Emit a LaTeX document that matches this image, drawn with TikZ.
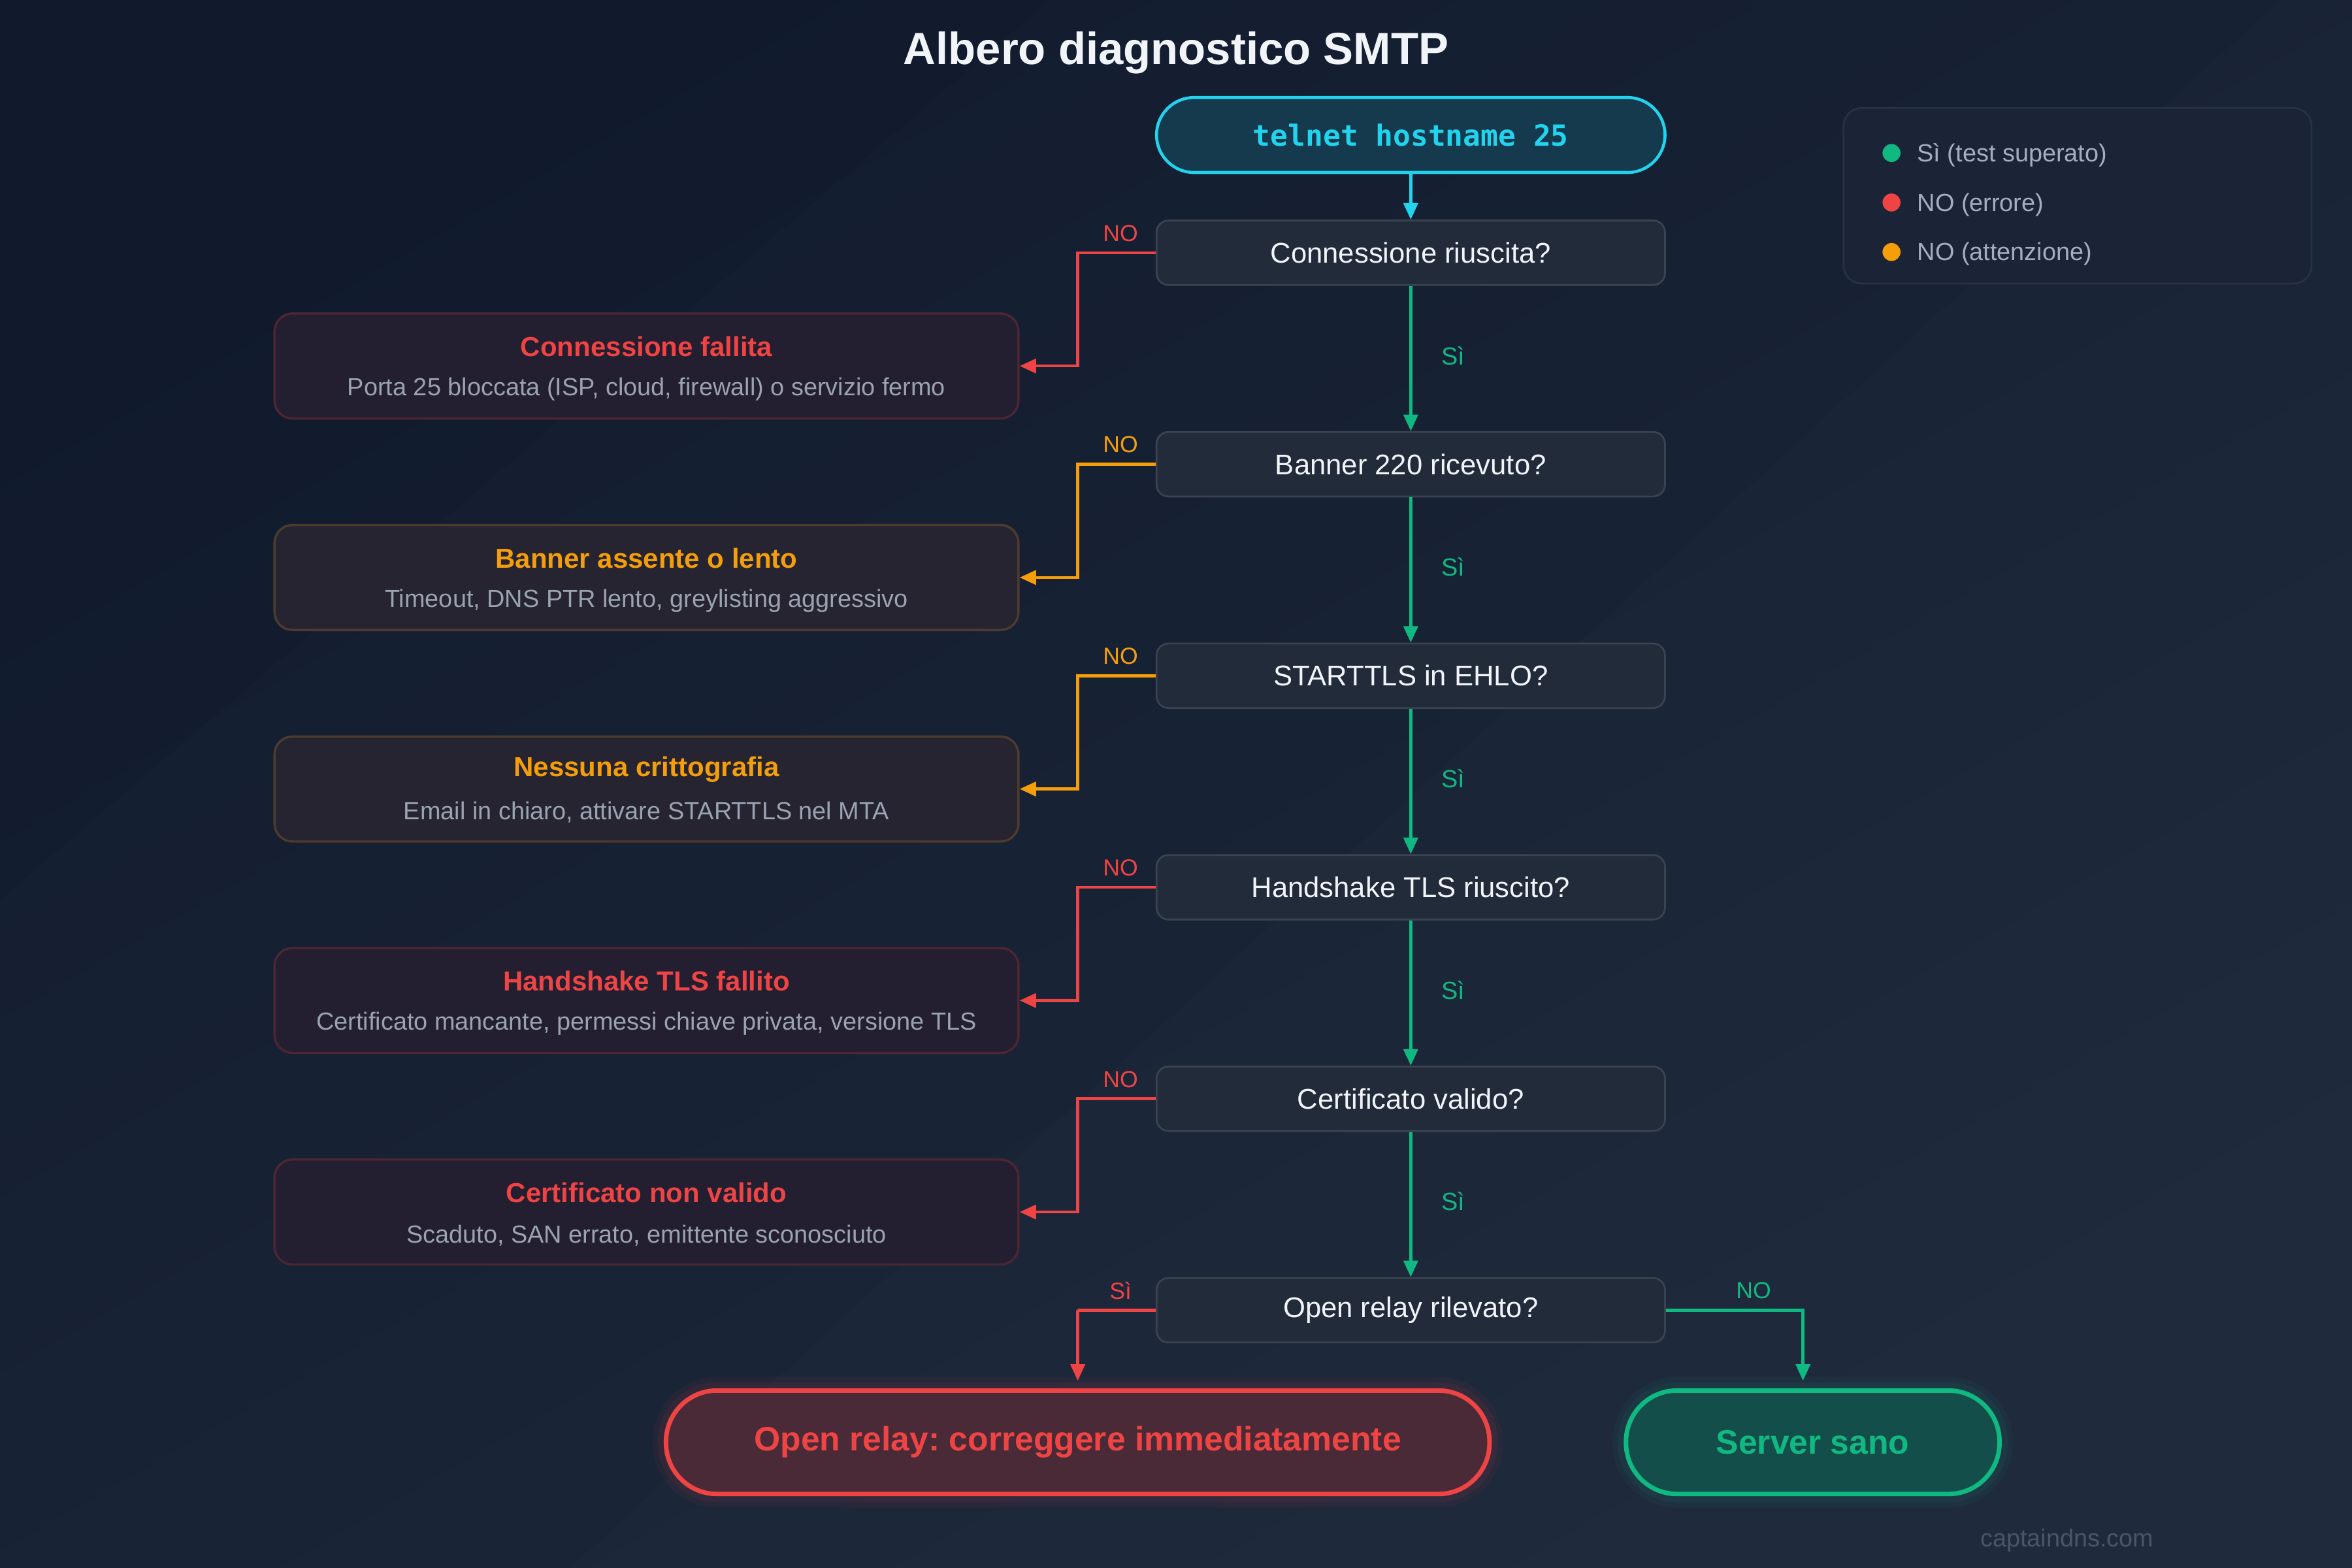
\documentclass[tikz,border=0pt]{standalone}
\usepackage{fontspec}
\setmainfont{Liberation Sans}
\newfontfamily\monof{DejaVu Sans Mono}
\usetikzlibrary{arrows.meta}
\frenchspacing
\definecolor{bgA}{HTML}{111A2D}
\definecolor{bgB}{HTML}{1B2639}
\definecolor{decfill}{HTML}{222B3A}
\definecolor{decline}{HTML}{3C4350}
\definecolor{txtw}{HTML}{F1F5F9}
\definecolor{subg}{HTML}{9AA3B2}
\definecolor{cRed}{HTML}{EF4444}
\definecolor{cOrg}{HTML}{F59E0B}
\definecolor{cGrn}{HTML}{10B981}
\definecolor{cCyan}{HTML}{22D3EE}
\definecolor{telfill}{HTML}{15394D}
\definecolor{redfill}{HTML}{231E30}
\definecolor{redline}{HTML}{4C2633}
\definecolor{orgfill}{HTML}{252430}
\definecolor{orgline}{HTML}{4D3B2F}
\definecolor{tredfill}{HTML}{4A2A37}
\definecolor{tgrnfill}{HTML}{134E4A}
\definecolor{legfill}{HTML}{1B2436}
\definecolor{legline}{HTML}{283244}
\definecolor{legtxt}{HTML}{A3AEC2}
\definecolor{wmark}{HTML}{4A5566}
\tikzset{
  every node/.style={inner sep=0pt},
  dec/.style={draw=decline, fill=decfill, line width=1.2pt, rounded corners=8pt,
    minimum width=339pt, minimum height=43pt, text=txtw, font=\fontsize{19}{23}\selectfont},
  resbox/.style={rounded corners=12pt, minimum width=496pt, minimum height=70pt, line width=1.5pt},
  redres/.style={resbox, fill=redfill, draw=redline},
  orgres/.style={resbox, fill=orgfill, draw=orgline},
  rtitle/.style={font=\bfseries\fontsize{18.3}{22}\selectfont},
  rsub/.style={text=subg, font=\fontsize{16.5}{20}\selectfont},
  tip/.style={-{Triangle[length=11pt,width=9.5pt]}},
  conn/.style={line width=2pt, tip},
  nolab/.style={font=\fontsize{15.5}{18}\selectfont},
  silab/.style={text=cGrn, font=\fontsize{16.5}{19}\selectfont},
  legt/.style={text=legtxt, font=\fontsize{16.5}{20}\selectfont, anchor=west},
}
\begin{document}
\begin{tikzpicture}[x=1pt,y=-1pt]
% background
\useasboundingbox (0,0) rectangle (1568,1045.33);
\shade[top color=bgA, bottom color=bgB, shading angle=30] (0,0) rectangle (1568,1045.33);
\fill[white, opacity=0.01] (0,600) -- (700,0) -- (1568,0) -- (1568,1045.33) -- (0,1045.33) -- cycle;
\fill[white, opacity=0.012] (380,1045.33) -- (1520,0) -- (1568,0) -- (1568,1045.33) -- cycle;

% title
\node[text=txtw, font=\bfseries\fontsize{30}{36}\selectfont] (title) at (784,35) {Albero diagnostico SMTP};

% start
\node[draw=cCyan, fill=telfill, line width=2pt, rounded corners=25pt,
  minimum width=339pt, minimum height=50pt, text=cCyan,
  font=\monof\bfseries\fontsize{19.4}{23}\selectfont] (tel) at (940.5,90) {telnet hostname 25};

% decisions
\node[dec] (d1) at (940.5,168.5) {Connessione riuscita?};
\node[dec] (d2) at (940.5,309.5) {Banner 220 ricevuto?};
\node[dec] (d3) at (940.5,450.5) {STARTTLS in EHLO?};
\node[dec] (d4) at (940.5,591.5) {Handshake TLS riuscito?};
\node[dec] (d5) at (940.5,732.5) {Certificato valido?};
\node[dec] (d6) at (940.5,873.5) {Open relay rilevato?};

% results
\node[redres] (r1) at (431,244) {};
\node[rtitle, text=cRed] (r1t) at ([yshift=13pt]r1.center) {Connessione fallita};
\node[rsub] (r1s) at ([yshift=-15.5pt]r1.center) {Porta 25 bloccata (ISP, cloud, firewall) o servizio fermo};

\node[orgres] (r2) at (431,385) {};
\node[rtitle, text=cOrg] (r2t) at ([yshift=13pt]r2.center) {Banner assente o lento};
\node[rsub] (r2s) at ([yshift=-15.5pt]r2.center) {Timeout, DNS PTR lento, greylisting aggressivo};

\node[orgres] (r3) at (431,526) {};
\node[rtitle, text=cOrg] (r3t) at ([yshift=13pt]r3.center) {Nessuna crittografia};
\node[rsub] (r3s) at ([yshift=-15.5pt]r3.center) {Email in chiaro, attivare STARTTLS nel MTA};

\node[redres] (r4) at (431,667) {};
\node[rtitle, text=cRed] (r4t) at ([yshift=13pt]r4.center) {Handshake TLS fallito};
\node[rsub] (r4s) at ([yshift=-15.5pt]r4.center) {Certificato mancante, permessi chiave privata, versione TLS};

\node[redres] (r5) at (431,808) {};
\node[rtitle, text=cRed] (r5t) at ([yshift=13pt]r5.center) {Certificato non valido};
\node[rsub] (r5s) at ([yshift=-15.5pt]r5.center) {Scaduto, SAN errato, emittente sconosciuto};

% terminals
\node[draw=cRed, fill=tredfill, line width=3pt, rounded corners=34pt,
  minimum width=549pt, minimum height=69pt, text=cRed,
  font=\bfseries\fontsize{22.5}{27}\selectfont,
  preaction={draw=cRed, line width=18pt, draw opacity=0.05},
  preaction={draw=cRed, line width=11pt, draw opacity=0.07}] (t1) at (718.5,961.5) {Open relay: correggere immediatamente};
\node[draw=cGrn, fill=tgrnfill, line width=3pt, rounded corners=34pt,
  minimum width=249pt, minimum height=69pt, text=cGrn,
  font=\bfseries\fontsize{22.5}{27}\selectfont,
  preaction={draw=cGrn, line width=18pt, draw opacity=0.05},
  preaction={draw=cGrn, line width=11pt, draw opacity=0.07}] (t2) at (1208.5,961.5) {Server sano};

% main flow
\draw[conn, cCyan] (tel.south) -- (d1.north);
\draw[conn, cGrn] (d1.south) -- node[silab, pos=0.48, anchor=west, xshift=19.5pt] (s1) {Sì} (d2.north);
\draw[conn, cGrn] (d2.south) -- node[silab, pos=0.48, anchor=west, xshift=19.5pt] (s2) {Sì} (d3.north);
\draw[conn, cGrn] (d3.south) -- node[silab, pos=0.48, anchor=west, xshift=19.5pt] (s3) {Sì} (d4.north);
\draw[conn, cGrn] (d4.south) -- node[silab, pos=0.48, anchor=west, xshift=19.5pt] (s4) {Sì} (d5.north);
\draw[conn, cGrn] (d5.south) -- node[silab, pos=0.48, anchor=west, xshift=19.5pt] (s5) {Sì} (d6.north);

% NO branches
\draw[conn, cRed] (d1.west) -- node[nolab, text=cRed, pos=0.45, yshift=13pt] (n1) {NO} ++(-52,0) |- (r1.east);
\draw[conn, cOrg] (d2.west) -- node[nolab, text=cOrg, pos=0.45, yshift=13pt] (n2) {NO} ++(-52,0) |- (r2.east);
\draw[conn, cOrg] (d3.west) -- node[nolab, text=cOrg, pos=0.45, yshift=13pt] (n3) {NO} ++(-52,0) |- (r3.east);
\draw[conn, cRed] (d4.west) -- node[nolab, text=cRed, pos=0.45, yshift=13pt] (n4) {NO} ++(-52,0) |- (r4.east);
\draw[conn, cRed] (d5.west) -- node[nolab, text=cRed, pos=0.45, yshift=13pt] (n5) {NO} ++(-52,0) |- (r5.east);

% open relay branches
\coordinate (t1in) at ([yshift=5pt]t1.north);
\coordinate (t2in) at ([xshift=-6.5pt,yshift=5pt]t2.north);
\draw[conn, cRed] (d6.west) -- node[nolab, text=cRed, pos=0.45, yshift=13pt] (n6) {Sì} ++(-52,0) -- (d6.west -| t1in) -- (t1in);
\draw[conn, cGrn] (d6.east) -- node[nolab, text=cGrn, pos=0.64, yshift=13pt] (n7) {NO} (d6.east -| t2in) -- (t2in);

% legend
\node[draw=legline, fill=legfill, line width=1.2pt, rounded corners=12pt,
  minimum width=312pt, minimum height=117pt] (leg) at (1385,130.5) {};
\fill[cGrn] (1261,102) circle (6pt);
\fill[cRed] (1261,135) circle (6pt);
\fill[cOrg] (1261,168) circle (6pt);
\node[legt] (l1) at (1278,103.5) {Sì (test superato)};
\node[legt] (l2) at (1278,136.5) {NO (errore)};
\node[legt] (l3) at (1278,169.5) {NO (attenzione)};

% watermark
\node[text=wmark, font=\fontsize{16.5}{20}\selectfont] (wm) at (1378,1027) {captaindns.com};
\end{tikzpicture}
\end{document}
